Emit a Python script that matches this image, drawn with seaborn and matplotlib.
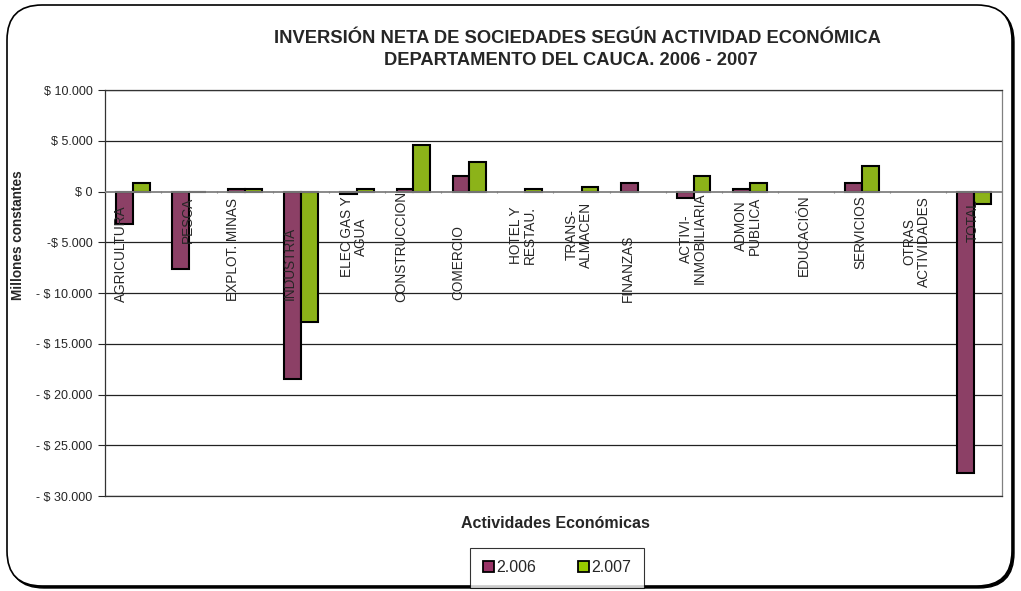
import pandas as pd
import seaborn as sns
import matplotlib.pyplot as plt
from matplotlib.patches import FancyBboxPatch, Patch

# categorias (eje X) y valores en millones constantes
actividades = ["AGRICULTURA", "PESCA", "EXPLOT. MINAS", "INDUSTRIA", "ELEC GAS Y\nAGUA",
               "CONSTRUCCION", "COMERCIO", "HOTEL Y\nRESTAU.", "TRANS-\nALMACEN", "FINANZAS",
               "ACTIVI-\nINMOBILIARIA", "ADMON\nPUBLICA", "EDUCACIÓN", "SERVICIOS",
               "OTRAS\nACTIVIDADES", "TOTAL"]
v2006 = [-3200, -7650, 200, -18500, -250, 200, 1500, 0, 0, 800, -650, 200, 0, 800, 0, -27700]
v2007 = [800, -60, 200, -12900, 200, 4600, 2950, 200, 400, 0, 1500, 800, 0, 2500, 0, -1250]
anios = ["2.006", "2.007"]
y_ticks = [10000, 5000, 0, -5000, -10000, -15000, -20000, -25000, -30000]
y_labels = ["$ 10.000", "$ 5.000", "$ 0", "-$ 5.000", "- $ 10.000", "- $ 15.000",
            "- $ 20.000", "- $ 25.000", "- $ 30.000"]

# posicion de las etiquetas de categoria dentro del grafico
label_y = [-6100, -2760, -5700, -7100, -4430, -5400, -7000, -4330, -4240, -7600,
           -4630, -3350, -4330, -4040, -4930, -2860]
label_dx = [-0.22, -0.03, -0.22, -0.2, -0.06, -0.22, -0.2, -0.05, -0.05, -0.18,
            -0.02, -0.03, -0.03, -0.02, -0.02, -0.03]

colores = ["#993366", "#99CC00"]

df = pd.DataFrame({
    "Actividad": actividades * 2,
    "Valor": v2006 + v2007,
    "Año": [anios[0]] * len(actividades) + [anios[1]] * len(actividades),
})

sns.set_style("white")
plt.rcParams["font.family"] = ["Liberation Sans", "DejaVu Sans"]

fig = plt.figure(figsize=(10.21, 5.91), dpi=100)

# marco redondeado con sombra
shadow = FancyBboxPatch((0.09, 0.03), 10.05, 5.81, boxstyle="round,pad=0,rounding_size=0.35",
                        transform=fig.dpi_scale_trans, facecolor="black", edgecolor="black", lw=1, zorder=-2)
frame = FancyBboxPatch((0.07, 0.05), 10.05, 5.81, boxstyle="round,pad=0,rounding_size=0.35",
                       transform=fig.dpi_scale_trans, facecolor="white", edgecolor="black", lw=1.2, zorder=-1)
fig.add_artist(shadow)
fig.add_artist(frame)

ax = fig.add_axes([0.1028, 0.1607, 0.8786, 0.6870])
ax.set_facecolor("white")

sns.barplot(data=df, x="Actividad", y="Valor", hue="Año", palette=colores, width=0.6,
            edgecolor="black", linewidth=1.5, ax=ax, legend=False, zorder=3)
# barras con valor cero no se dibujan
for p in ax.patches:
    if p.get_height() == 0:
        p.set_visible(False)

ax.set_ylim(-30000, 10000)
ax.set_xlim(-0.5, len(actividades) - 0.5)
ax.set_yticks(y_ticks)
ax.set_yticklabels(y_labels, fontsize=9)
ax.set_xticks([])
ax.tick_params(axis="y", direction="out", length=5, width=0.8, left=True, pad=4)
for y in y_ticks:
    if y != 0:
        ax.axhline(y, color="#222222", lw=0.9, zorder=1)
ax.axhline(0, color="#808080", lw=1.3, zorder=4)
ax.vlines([i + 0.5 for i in range(len(actividades) - 1)], -180, 60, color="#808080", lw=0.8, zorder=4)

for sp in ax.spines.values():
    sp.set_color("#333333")
    sp.set_linewidth(0.9)
ax.spines["right"].set_color("#808080")

for i, lab in enumerate(actividades):
    ax.text(i + label_dx[i], label_y[i], lab, rotation=90, ha="center", va="center",
            multialignment="center", fontsize=9.8, zorder=5, linespacing=1.0)

ax.set_xlabel("")
ax.set_ylabel("Millones constantes", fontsize=9.8, fontweight="bold")
ax.yaxis.set_label_coords(-0.089, 0.643)

fig.text(0.566, 0.935, "INVERSIÓN NETA DE SOCIEDADES SEGÚN ACTIVIDAD ECONÓMICA",
         ha="center", va="center", fontsize=13.2, fontweight="bold")
fig.text(0.559, 0.898, "DEPARTAMENTO DEL CAUCA. 2006 - 2007",
         ha="center", va="center", fontsize=13.2, fontweight="bold")
fig.text(0.544, 0.115, "Actividades Económicas", ha="center", va="center",
         fontsize=11.5, fontweight="bold")

handles = [Patch(facecolor=c, edgecolor="black", lw=1.3) for c in colores]
leg = fig.legend(handles, anios, loc="center", bbox_to_anchor=(0.5455, 0.039), ncol=2,
                 fontsize=11.5, frameon=True, fancybox=False, edgecolor="black",
                 handlelength=0.7, handleheight=0.7, handletextpad=0.15, columnspacing=2.6,
                 borderpad=0.8, borderaxespad=0)
leg.get_frame().set_linewidth(0.8)

fig.savefig("out.png", dpi=100)
